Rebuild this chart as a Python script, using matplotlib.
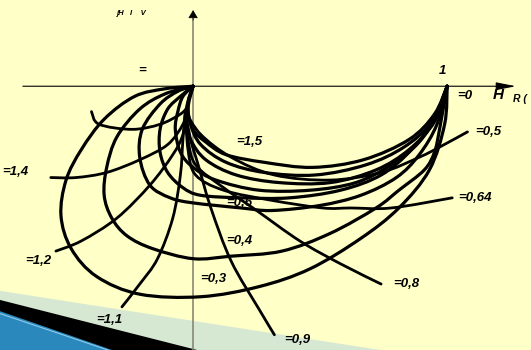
import numpy as np
import matplotlib
matplotlib.use('Agg')
import matplotlib.pyplot as plt
from matplotlib.patches import Polygon, PathPatch
from matplotlib.path import Path


# amplitude-phase loops, each from H = 1 (w = 0) to the origin, points are (H_R, H_I)
loop_03 = [(1.00, 0.00), (0.99, -0.15), (0.93, -0.33), (0.81, -0.48), (0.66, -0.60),
           (0.46, -0.72), (0.26, -0.79), (0.03, -0.83), (-0.21, -0.82), (-0.38, -0.75),
           (-0.48, -0.64), (-0.52, -0.51), (-0.50, -0.37), (-0.44, -0.25), (-0.35, -0.13),
           (-0.23, -0.04), (-0.11, -0.01), (0.00, 0.00)]
loop_04 = [(1.00, 0.00), (0.97, -0.17), (0.95, -0.26), (0.91, -0.33), (0.81, -0.41),
           (0.72, -0.48), (0.54, -0.58), (0.35, -0.65), (0.15, -0.67), (0.00, -0.68),
           (-0.16, -0.64), (-0.26, -0.59), (-0.32, -0.52), (-0.35, -0.43), (-0.34, -0.32),
           (-0.30, -0.20), (-0.21, -0.09), (-0.11, -0.03), (0.00, 0.00)]
loop_06 = [(1.00, 0.00), (0.96, -0.15), (0.89, -0.27), (0.80, -0.36), (0.66, -0.43),
           (0.50, -0.47), (0.31, -0.49), (0.19, -0.48), (0.00, -0.46), (-0.09, -0.44),
           (-0.17, -0.39), (-0.21, -0.28), (-0.20, -0.17), (-0.13, -0.07), (-0.06, -0.02),
           (0.00, 0.00)]
loop_08 = [(1.00, 0.00), (0.95, -0.13), (0.86, -0.25), (0.74, -0.35), (0.58, -0.41),
           (0.38, -0.44), (0.19, -0.44), (0.03, -0.43), (-0.04, -0.40), (-0.10, -0.34),
           (-0.13, -0.26), (-0.13, -0.17), (-0.10, -0.09), (-0.05, -0.04), (0.00, 0.00)]
loop_10 = [(1.00, 0.00), (0.96, -0.11), (0.89, -0.22), (0.78, -0.31), (0.64, -0.38),
           (0.46, -0.41), (0.26, -0.41), (0.09, -0.37), (0.00, -0.32), (-0.05, -0.26),
           (-0.07, -0.17), (-0.06, -0.10), (-0.04, -0.04), (0.00, 0.00)]
loop_12 = [(1.00, 0.00), (0.95, -0.14), (0.85, -0.25), (0.72, -0.33), (0.54, -0.38),
           (0.34, -0.38), (0.17, -0.35), (0.05, -0.29), (-0.01, -0.21), (-0.03, -0.13),
           (-0.02, -0.06), (0.00, 0.00)]
loop_13 = [(1.00, 0.00), (0.94, -0.14), (0.83, -0.24), (0.68, -0.31), (0.48, -0.35),
           (0.28, -0.34), (0.13, -0.30), (0.03, -0.23), (-0.01, -0.15), (-0.02, -0.07),
           (0.00, 0.00)]
loop_15 = [(1.00, 0.00), (0.95, -0.11), (0.85, -0.21), (0.67, -0.29), (0.47, -0.32),
           (0.28, -0.30), (0.13, -0.27), (0.05, -0.22), (0.00, -0.17), (-0.02, -0.09),
           (0.00, 0.00)]

# lines of constant frequency
w_05 = [(-0.03, -0.10), (0.03, -0.19), (0.15, -0.28), (0.32, -0.35), (0.54, -0.37),
        (0.74, -0.34), (0.89, -0.28), (0.97, -0.24), (1.08, -0.18)]
w_064 = [(-0.03, -0.10), (-0.02, -0.25), (0.01, -0.35), (0.12, -0.41), (0.31, -0.45),
         (0.51, -0.48), (0.62, -0.48), (0.78, -0.48), (1.02, -0.44)]
w_08 = [(-0.03, -0.10), (-0.02, -0.21), (0.01, -0.31), (0.12, -0.40), (0.25, -0.49),
        (0.42, -0.61), (0.58, -0.70), (0.74, -0.78)]
w_09 = [(-0.03, -0.10), (-0.01, -0.21), (0.02, -0.31), (0.07, -0.48), (0.15, -0.69),
        (0.26, -0.88), (0.32, -0.98)]
w_11 = [(-0.03, -0.10), (-0.04, -0.21), (-0.05, -0.35), (-0.08, -0.52), (-0.14, -0.68),
        (-0.21, -0.78), (-0.28, -0.87)]
w_12 = [(-0.03, -0.10), (-0.04, -0.19), (-0.08, -0.27), (-0.17, -0.39), (-0.30, -0.52),
        (-0.44, -0.61), (-0.54, -0.65)]
w_14 = [(-0.03, -0.10), (-0.04, -0.15), (-0.10, -0.23), (-0.21, -0.29), (-0.34, -0.34),
        (-0.46, -0.36), (-0.56, -0.36)]
w_hi = [(-0.02, -0.08), (-0.05, -0.11), (-0.13, -0.15), (-0.24, -0.17), (-0.37, -0.15),
        (-0.40, -0.10)]

loops = [loop_03, loop_04, loop_06, loop_08, loop_10, loop_12, loop_13, loop_15]
w_lines = [w_05, w_064, w_08, w_09, w_11, w_12, w_14, w_hi]

loop_labels = ['=0,3', '=0,4', '=0,6', '=1,5']
w_labels = ['=0,5', '=0,64', '=0,8', '=0,9', '=1,1', '=1,2', '=1,4', '=']


def smooth_path(pts):
    # cubic bezier segments passing through every point (catmull-rom tangents)
    p = np.array(pts, dtype=float)
    ext = np.vstack([p[0], p, p[-1]])
    verts = [p[0]]
    codes = [Path.MOVETO]
    for i in range(1, len(ext) - 2):
        p0, p1, p2, p3 = ext[i - 1], ext[i], ext[i + 1], ext[i + 2]
        verts += [p1 + (p2 - p0) / 6.0, p2 - (p3 - p1) / 6.0, p2]
        codes += [Path.CURVE4] * 3
    return Path(verts, codes)


fig = plt.figure(figsize=(5.31, 3.5), dpi=100)
fig.patch.set_facecolor('#ffffc8')
ax = fig.add_axes([0, 0, 1, 1])
ax.set_facecolor('none')
ax.set_xlim(-0.76, 1.33)
ax.set_ylim(-1.04, 0.34)
ax.axis('off')

# slide decoration in the lower left corner
ax.add_patch(Polygon([(0, 0.169), (0.716, 0), (0, 0)], closed=True,
                     transform=ax.transAxes, color='#d6e8d2', zorder=1, lw=0))
ax.add_patch(Polygon([(0, 0.143), (0.371, 0), (0, 0)], closed=True,
                     transform=ax.transAxes, color='black', zorder=1, lw=0))
ax.add_patch(Polygon([(0, 0.111), (0.211, 0), (0, 0)], closed=True,
                     transform=ax.transAxes, color='#2a88bd', zorder=1, lw=0))
ax.plot([0, 0.203], [0.104, 0], transform=ax.transAxes, color='#8ccbe8', lw=0.8, zorder=1)

# axes
ax.plot([0, 0], [-1.04, 0.27], color='#7f7f70', lw=1.1, zorder=2)
ax.annotate('', xy=(0, 0.30), xytext=(0, 0.26),
            arrowprops=dict(arrowstyle='-|>,head_length=0.5,head_width=0.3',
                            color='black', lw=0.5, mutation_scale=10,
                            shrinkA=0, shrinkB=0), zorder=2)
ax.annotate('', xy=(1.27, 0), xytext=(-0.67, 0),
            arrowprops=dict(arrowstyle='-|>,head_length=0.6,head_width=0.12',
                            color='black', lw=0.8, mutation_scale=20,
                            shrinkA=0, shrinkB=0), zorder=2)

for pts in loops:
    ax.add_patch(PathPatch(smooth_path(pts), fill=False, edgecolor='black', lw=2.3,
                           joinstyle='round', capstyle='round', zorder=3))

for pts in w_lines:
    ax.add_patch(PathPatch(smooth_path(pts), fill=False, edgecolor='black', lw=2.0,
                           joinstyle='round', capstyle='round', zorder=3))

lab = dict(fontfamily='Liberation Sans', fontweight='bold', fontstyle='italic',
           fontsize=9.5, color='black', ha='center', va='center', zorder=4)

loop_pos = [(0.08, -0.76), (0.18, -0.61), (0.18, -0.46), (0.22, -0.22)]
for s, (x, y) in zip(loop_labels, loop_pos):
    ax.text(x, y, s, **lab)

w_pos = [(1.16, -0.18), (1.11, -0.44), (0.84, -0.78), (0.41, -1.00),
         (-0.33, -0.92), (-0.61, -0.69), (-0.75, -0.34), (-0.20, 0.06)]
for s, (x, y) in zip(w_labels, w_pos):
    if s == '=1,4':
        ax.text(x, y, s, **{**lab, 'ha': 'left'})
    else:
        ax.text(x, y, s, **lab)

ax.text(1.07, -0.04, '=0', **lab)
ax.text(0.98, 0.06, '1', **lab)
ax.text(1.20, -0.035, 'H', **{**lab, 'fontsize': 11})
ax.text(1.26, -0.05, 'R (', **{**lab, 'fontsize': 7.5, 'ha': 'left'})
ax.text(-0.30, 0.287, 'jH   I    V', **{**lab, 'fontsize': 5.5, 'ha': 'left'})

fig.savefig('out.png', dpi=100, facecolor=fig.get_facecolor())
